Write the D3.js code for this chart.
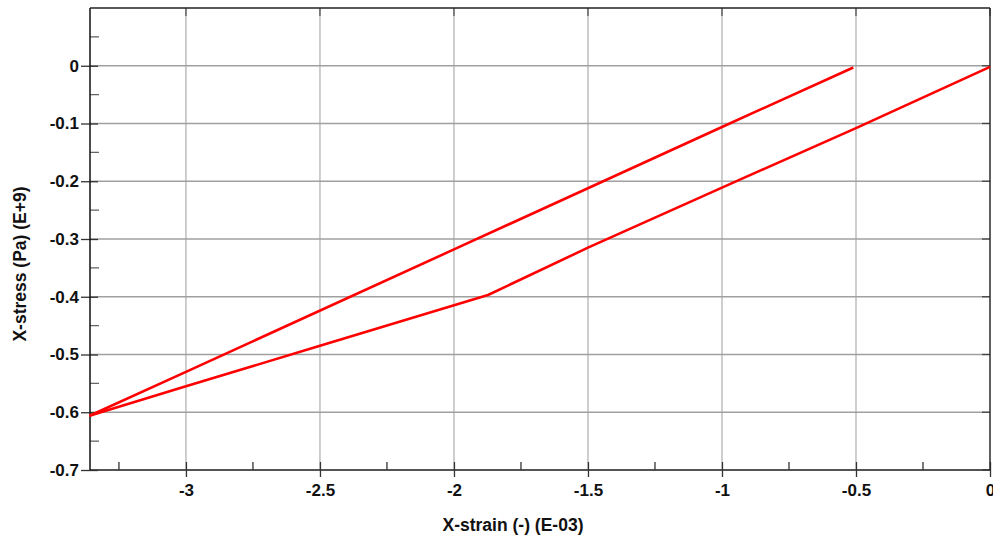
<!DOCTYPE html>
<html><head><meta charset="utf-8">
<script src="https://cdn.jsdelivr.net/npm/d3@7"></script>
<style>body{margin:0;background:#fff}svg{display:block}text{font-family:"Liberation Sans",Arial,sans-serif;font-weight:bold;fill:#111}</style>
</head><body><svg id="c" width="993" height="541"></svg>
<script>
// Loading path (strain E-03, stress E+9)
const loadStrain = [0, -0.5, -1.0, -1.5, -1.873, -2.5, -3.0, -3.36];
const loadStress = [-0.002, -0.108, -0.211, -0.315, -0.397, -0.485, -0.555, -0.606];
// Unloading path
const unloadStrain = [-3.36, -3.0, -2.0, -1.0, -0.51];
const unloadStress = [-0.606, -0.530, -0.318, -0.106, -0.003];
const xTicks = [-3, -2.5, -2, -1.5, -1, -0.5, 0];
const xMinor = [-3.25, -2.75, -2.25, -1.75, -1.25, -0.75, -0.25];
const yTicks = [0, -0.1, -0.2, -0.3, -0.4, -0.5, -0.6, -0.7];
const yMinor = [0.05, -0.05, -0.15, -0.25, -0.35, -0.45, -0.55, -0.65];

const L = 90, R = 990, T = 8, B = 470;
const svg = d3.select("#c");
const x = d3.scaleLinear().domain([-3.358, 0]).range([L, R]);
const y = d3.scaleLinear().domain([-0.7, 0.1]).range([B, T]);
const fmt = d => String(d);

// grid
svg.append("g").selectAll("line").data(xTicks).join("line")
  .attr("x1", d => x(d)).attr("x2", d => x(d)).attr("y1", T).attr("y2", B)
  .attr("stroke", "#b4b4b4").attr("stroke-width", 1.3);
svg.append("g").selectAll("line").data(yTicks).join("line")
  .attr("x1", L).attr("x2", R).attr("y1", d => y(d)).attr("y2", d => y(d))
  .attr("stroke", "#a0a0a0").attr("stroke-width", 1.3);

// y axis
const ya = svg.append("g").attr("transform", `translate(${L},0)`)
  .call(d3.axisLeft(y).tickValues(yTicks).tickSize(9).tickPadding(2).tickFormat(fmt));
ya.select(".domain").remove();
ya.selectAll(".tick line").attr("stroke", "#333").attr("stroke-width", 1.3).attr("x2", 8).attr("x1", -9);
ya.selectAll(".tick text").attr("font-size", 17).attr("font-family", "Liberation Sans, Arial, sans-serif").attr("font-weight", "bold").attr("fill", "#111");
svg.append("g").selectAll("line").data(yMinor).join("line")
  .attr("x1", L).attr("x2", L + 9).attr("y1", d => y(d)).attr("y2", d => y(d))
  .attr("stroke", "#666").attr("stroke-width", 1.3);
// right stubs
svg.append("g").selectAll("line").data(yTicks).join("line")
  .attr("x1", R - 8).attr("x2", R).attr("y1", d => y(d)).attr("y2", d => y(d))
  .attr("stroke", "#444").attr("stroke-width", 1.3);

// x axis
const xa = svg.append("g").attr("transform", `translate(0,${B})`)
  .call(d3.axisBottom(x).tickValues(xTicks).tickSize(7).tickPadding(7).tickFormat(fmt));
xa.select(".domain").remove();
xa.selectAll(".tick line").attr("stroke", "#333").attr("stroke-width", 1.3).attr("y1", -8).attr("y2", 7);
xa.selectAll(".tick text").attr("font-size", 17).attr("font-family", "Liberation Sans, Arial, sans-serif").attr("font-weight", "bold").attr("fill", "#111");
svg.append("g").selectAll("line").data(xMinor).join("line")
  .attr("x1", d => x(d)).attr("x2", d => x(d)).attr("y1", B - 8).attr("y2", B)
  .attr("stroke", "#333").attr("stroke-width", 1.3);
// top stubs
svg.append("g").selectAll("line").data(xTicks).join("line")
  .attr("x1", d => x(d)).attr("x2", d => x(d)).attr("y1", T).attr("y2", T + 8)
  .attr("stroke", "#555").attr("stroke-width", 1.3);

// frame
svg.append("line").attr("x1", L).attr("x2", R).attr("y1", B).attr("y2", B).attr("stroke", "#333").attr("stroke-width", 1.5);
svg.append("line").attr("x1", L).attr("x2", L).attr("y1", T).attr("y2", B).attr("stroke", "#111").attr("stroke-width", 1.5);
svg.append("line").attr("x1", L).attr("x2", R).attr("y1", T).attr("y2", T).attr("stroke", "#222").attr("stroke-width", 1.3);
svg.append("line").attr("x1", R).attr("x2", R).attr("y1", T).attr("y2", B).attr("stroke", "#222").attr("stroke-width", 1.3);

// data
const line = d3.line().x(d => x(d[0])).y(d => y(d[1]));
const load = loadStrain.map((v, i) => [v, loadStress[i]]);
const unload = unloadStrain.map((v, i) => [v, unloadStress[i]]);
[load, unload].forEach(p => svg.append("path").datum(p).attr("d", line)
  .attr("fill", "none").attr("stroke", "#ff0000").attr("stroke-width", 2.6).attr("stroke-linejoin", "round"));

// labels
svg.append("text").attr("x", 513).attr("y", 531).attr("text-anchor", "middle").attr("font-size", 17.5).text("X-strain (-) (E-03)");
svg.append("text").attr("transform", "translate(26,264) rotate(-90)").attr("text-anchor", "middle").attr("font-size", 17.5).text("X-stress (Pa) (E+9)");
</script></body></html>
